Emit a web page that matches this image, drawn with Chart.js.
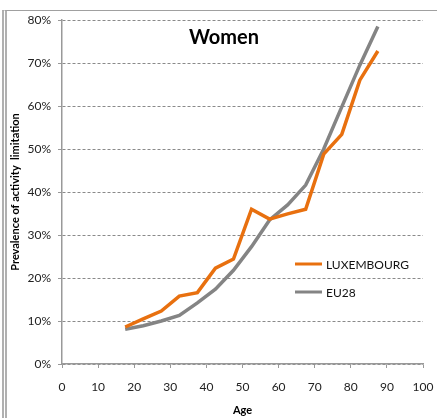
<!DOCTYPE html>
<html>
<head>
<meta charset="utf-8">
<script src="https://cdn.jsdelivr.net/npm/chart.js@4/dist/chart.umd.min.js"></script>
<style>
  html, body { margin: 0; padding: 0; background: #fff; }
  #wrap { position: relative; width: 437px; height: 418px; }
  #frame { position: absolute; left: 2px; top: 10px; width: 435px; height: 408px;
    border-left: 5px double #b0b0b0; border-top: 1px solid #a0a0a0; box-sizing: border-box; }
  canvas { position: absolute; left: 0; top: 0; }
</style>
</head>
<body>
<div id="wrap">
  <div id="frame"></div>
  <canvas id="canvas" width="437" height="418"></canvas>
</div>
<script>
'use strict'
/* global Chart */

const ages = [17.5, 22.5, 27.5, 32.5, 37.5, 42.5, 47.5, 52.5, 57.5, 62.5, 67.5, 72.5, 77.5, 82.5, 87.5]
const luxembourg = [8.6, 10.5, 12.3, 15.8, 16.6, 22.3, 24.4, 36.0, 33.7, 34.9, 36.0, 48.8, 53.4, 66.0, 72.8]
const eu28 = [8.1, 8.9, 10.0, 11.3, 14.2, 17.4, 21.8, 27.3, 33.5, 37.0, 41.6, 50.0, 59.8, 69.5, 78.5]
const yTicks = [0, 10, 20, 30, 40, 50, 60, 70, 80]
const xTicks = [0, 10, 20, 30, 40, 50, 60, 70, 80, 90, 100]

const FONT = 'Lato, "Open Sans", sans-serif'
const toPoints = vals => vals.map((v, i) => ({ x: ages[i], y: v }))

// title and legend sit inside the plot area, so draw them by hand
const insidePlugin = {
  id: 'inside',
  afterDatasetsDraw (chart) {
    const { ctx, chartArea } = chart
    ctx.save()
    ctx.fillStyle = '#000'
    ctx.font = 'bold 20px ' + FONT
    ctx.textAlign = 'center'
    ctx.textBaseline = 'middle'
    ctx.fillText('Women', 224, chartArea.top + 18)
    ctx.font = '12px ' + FONT
    ctx.textAlign = 'left'
    chart.data.datasets.forEach((ds, i) => {
      const y = 264 + i * 28
      ctx.strokeStyle = ds.borderColor
      ctx.lineWidth = 3
      ctx.beginPath()
      ctx.moveTo(295, y)
      ctx.lineTo(322, y)
      ctx.stroke()
      ctx.fillStyle = '#111'
      ctx.fillText(ds.label, 326, y + 1)
    })
    ctx.restore()
  }
}

const ctx = document.getElementById('canvas').getContext('2d')
new Chart(ctx, {
  type: 'line',
  data: {
    datasets: [
      { label: 'LUXEMBOURG', data: toPoints(luxembourg), borderColor: '#E8700F', borderWidth: 3.5, pointRadius: 0, fill: false, tension: 0 },
      { label: 'EU28', data: toPoints(eu28), borderColor: '#848484', borderWidth: 3.5, pointRadius: 0, fill: false, tension: 0 }
    ]
  },
  plugins: [insidePlugin],
  options: {
    responsive: false,
    animation: false,
    devicePixelRatio: 1,
    layout: { padding: { top: 20, right: 14, left: 0, bottom: 0 } },
    plugins: { legend: { display: false }, tooltip: { enabled: false } },
    scales: {
      x: {
        type: 'linear',
        min: 0,
        max: 100,
        afterBuildTicks: scale => { scale.ticks = xTicks.map(v => ({ value: v })) },
        afterFit: scale => {
          scale.height = 54
          scale.paddingLeft = 0
          scale.paddingRight = 0
        },
        ticks: { color: '#222', font: { family: FONT, size: 12 }, padding: 12, maxRotation: 0 },
        grid: { drawOnChartArea: false, drawTicks: true, tickLength: 4, color: '#999' },
        border: { color: '#999', width: 1.5 },
        title: { display: true, text: 'Age', color: '#000', font: { family: FONT, size: 11, weight: 'bold' }, padding: { top: 0, bottom: 1 } }
      },
      y: {
        min: 0,
        max: 80,
        afterBuildTicks: scale => { scale.ticks = yTicks.map(v => ({ value: v })) },
        afterFit: scale => {
          scale.width = 62
          scale.paddingTop = 0
          scale.paddingBottom = 0
        },
        ticks: { color: '#222', font: { family: FONT, size: 12 }, padding: 7, callback: v => v + '%' },
        grid: { color: '#8a8a8a', tickColor: '#999', tickLength: 4, tickBorderDash: [] },
        border: { color: '#999', width: 1.5, dash: [3, 2] },
        title: { display: true, text: 'Prevalence of activity  limitation', color: '#000', font: { family: FONT, size: 11, weight: 'bold' }, padding: { top: 9, bottom: 0 } }
      }
    }
  }
})
</script>
</body>
</html>
